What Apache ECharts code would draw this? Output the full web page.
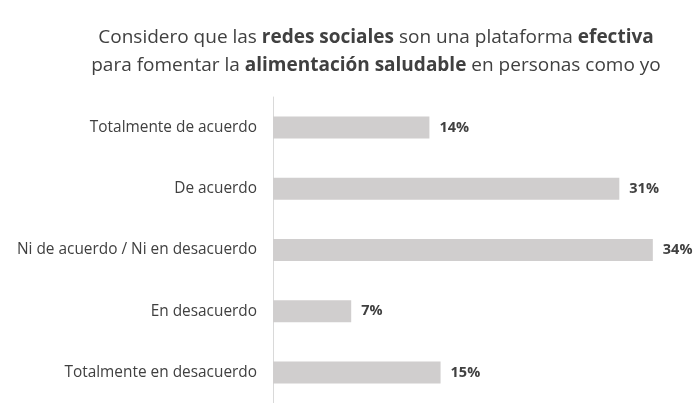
<!DOCTYPE html>
<html>
<head>
<meta charset="utf-8">
<script src="https://cdn.jsdelivr.net/npm/echarts@6/dist/echarts.min.js"></script>
<style>
  html, body { margin: 0; padding: 0; background: #fff; }
  #chart { width: 695px; height: 403px; }
</style>
</head>
<body>
<div id="chart"></div>
<script>
// Response categories, top to bottom
const categories = [
  'Totalmente de acuerdo',
  'De acuerdo',
  'Ni de acuerdo / Ni en desacuerdo',
  'En desacuerdo',
  'Totalmente en desacuerdo'
];
// Share of respondents (%)
const values = [14, 31, 34, 7, 15];

const FONT = '"Open Sans", Lato, sans-serif';
const TEXT = '#404040';

const chart = echarts.init(document.getElementById('chart'), null, { renderer: 'canvas' });

chart.setOption({
  animation: false,
  backgroundColor: '#ffffff',
  title: {
    left: 371,
    textAlign: 'center',
    top: 19,
    text: '{n|Considero que las }{b|redes sociales}{n| son una plataforma }{b|efectiva}\n' +
          '{n|para fomentar la }{b|alimentación saludable}{n| en personas como yo}',
    textStyle: {
      rich: {
        n: { fontFamily: FONT, fontSize: 19, color: TEXT, fontWeight: 'normal', lineHeight: 28 },
        b: { fontFamily: FONT, fontSize: 19, color: TEXT, fontWeight: 'bold', lineHeight: 28 }
      }
    }
  },
  grid: {
    left: 273,
    top: 97,
    width: 391,
    height: 311.5,
    containLabel: false
  },
  xAxis: {
    type: 'value',
    min: 0,
    max: 35,
    show: false
  },
  yAxis: {
    type: 'category',
    data: categories,
    inverse: true,
    axisLine: { show: true, lineStyle: { color: '#d9d9d9', width: 1 } },
    axisTick: { show: false },
    axisLabel: {
      margin: 16,
      fontFamily: FONT,
      fontSize: 15.4,
      color: TEXT
    }
  },
  series: [{
    type: 'bar',
    data: values,
    barWidth: 22,
    itemStyle: { color: '#d0cece' },
    label: {
      show: true,
      position: 'right',
      distance: 10,
      formatter: '{c}%',
      fontFamily: FONT,
      fontSize: 14.5,
      fontWeight: 'bold',
      color: TEXT
    }
  }]
});
</script>
</body>
</html>
